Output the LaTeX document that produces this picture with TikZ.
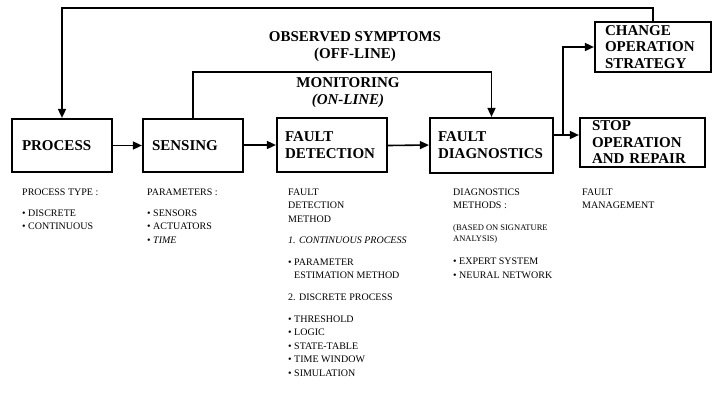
\documentclass[tikz,border=0pt]{standalone}
\usepackage{fontspec}
\setmainfont{Liberation Serif}
\usetikzlibrary{arrows.meta}
\tikzset{
  box/.style={draw, line width=2.2pt, inner xsep=0pt, inner ysep=0pt, align=left,
    font=\fontsize{15}{17}\selectfont\bfseries},
  conn/.style={line width=1.6pt},
  arr/.style={conn, -{Triangle[length=9pt,width=8pt]}},
  small/.style={font=\fontsize{10}{13.5}\selectfont, align=left, inner sep=0pt, anchor=north west},
  tiny/.style={font=\fontsize{8.5}{11}\selectfont, align=left, inner sep=0pt, anchor=north west},
  toplabel/.style={font=\fontsize{15}{17}\selectfont\bfseries, align=center, inner sep=0pt}
}
\begin{document}
\begin{tikzpicture}[x=1pt,y=-1pt]
\useasboundingbox (0,0) rectangle (712,392);

% boxes
\node[box, minimum width=100pt, minimum height=53pt, text width=80pt] (process) at (62,145.5) {PROCESS};
\node[box, minimum width=100pt, minimum height=53pt, text width=82pt] (sensing) at (193,145.5) {SENSING};
\node[box, minimum width=110pt, minimum height=54pt, text width=94pt] (fd) at (332,145) {FAULT\\DETECTION};
\node[box, minimum width=123pt, minimum height=55pt, text width=107pt] (diag) at (491.5,145.5) {FAULT\\DIAGNOSTICS};
\node[box, minimum width=125pt, minimum height=49pt, text width=101pt, font=\fontsize{15}{16.5}\selectfont\bfseries] (stop) at (642.5,142.5) {STOP\\OPERATION\\AND REPAIR};
\node[box, minimum width=116pt, minimum height=50pt, text width=96pt, font=\fontsize{15}{16.5}\selectfont\bfseries] (change) at (653,47) {CHANGE\\OPERATION\\STRATEGY};

% top labels
\node[toplabel] (obs) at (355,46.5) {OBSERVED SYMPTOMS\\(OFF-LINE)};
\node[toplabel] (mon) at (348,92.5) {MONITORING\\\textit{(ON-LINE)}};

% coordinates
\coordinate (topY) at (0,8);
\coordinate (monY) at (0,72);
\coordinate (j) at (563,135);

% connectors
\draw[arr] (process.east) -- (process.east -| sensing.west);
\draw[arr] (sensing.east |- fd.west) -- (fd.west);
\draw[arr] (fd.east |- diag.west) -- (fd.east -| diag.west);
\draw[conn] (diag.east |- j) -- (j);
\draw[arr] (j) -- (stop.west |- j);
\draw[arr] (j) |- (change.west);
\draw[arr] (change.north) |- (process.north |- topY) -- (process.north);
\draw[arr] (sensing.north) |- (diag.north |- monY) -- (diag.north);

% description texts
\node[small] (ptype) at (22,188.5) {PROCESS TYPE :\\[7.5pt]\textbullet\ DISCRETE\\\textbullet\ CONTINUOUS};
\node[small] (params) at (147,188.5) {PARAMETERS :\\[7.5pt]\textbullet\ SENSORS\\\textbullet\ ACTUATORS\\\textbullet\ \textit{TIME}};
\node[small] (fdm) at (288,188.5) {FAULT\\DETECTION\\METHOD\\[7.5pt]\textit{1. CONTINUOUS PROCESS}\\[8.5pt]\textbullet\ PARAMETER\\\hphantom{\textbullet\ }ESTIMATION METHOD\\[8pt]2. DISCRETE PROCESS\\[8.5pt]\textbullet\ THRESHOLD\\\textbullet\ LOGIC\\\textbullet\ STATE-TABLE\\\textbullet\ TIME WINDOW\\\textbullet\ SIMULATION};
\node[small] (dm) at (453,188.5) {DIAGNOSTICS\\METHODS :};
\node[tiny] (based) at (453,224.5) {(BASED ON SIGNATURE\\ANALYSIS)};
\node[small] (dlist) at (453,258) {\textbullet\ EXPERT SYSTEM\\\textbullet\ NEURAL NETWORK};
\node[small] (fm) at (582,188.5) {FAULT\\MANAGEMENT};
\end{tikzpicture}
\end{document}
